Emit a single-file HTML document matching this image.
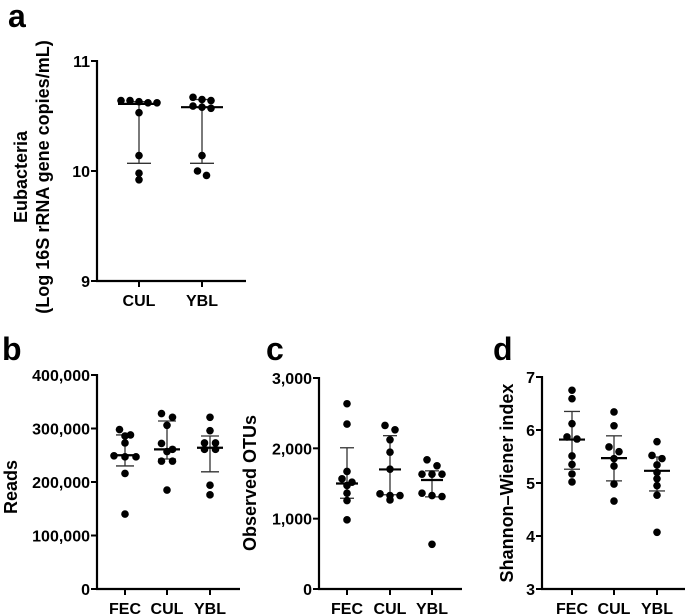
<!DOCTYPE html>
<html><head><meta charset="utf-8"><style>
html,body{margin:0;padding:0;background:#fff;}
svg{display:block;font-family:"Liberation Sans",Arial,sans-serif;font-weight:bold;}
</style></head><body>
<svg id="fig" width="685" height="615" viewBox="0 0 685 615"></svg>
<script>
const aCategories=["CUL","YBL"];
const aValues=[[10.64,10.62,10.62,10.63,10.64,10.53,10.14,9.98,9.92],[10.67,10.65,10.64,10.59,10.57,10.58,10.14,9.96,10.0]];
const aMedian=[10.61,10.58];const aQ1=[10.07,10.07];const aQ3=[10.63,10.65];
const aTicks=[9,10,11];const aTickLabels=["9","10","11"];

const bCategories=["FEC","CUL","YBL"];
const bValues=[[288000,298000,286000,273000,249000,247000,247000,216000,140000],[321000,328000,306000,272000,261000,257000,239000,239000,185000],[321000,296000,273000,273000,261000,261000,194000,176000]];
const bMedian=[250000,261000,264000];const bQ1=[230000,243000,219000];const bQ3=[288000,314000,286000];
const bTicks=[0,100000,200000,300000,400000];const bTickLabels=["0","100,000","200,000","300,000","400,000"];

const cCategories=["FEC","CUL","YBL"];
const cValues=[[2634,2345,1566,1671,1519,1472,1362,1258,983],[2326,2264,2122,1946,1704,1267,1353,1329,1329],[1633,1633,1633,1752,1837,1362,1315,1329,636]];
const cMedian=[1500,1700,1550];const cQ1=[1290,1340,1310];const cQ3=[2008,2180,1680];
const cTicks=[0,1000,2000,3000];const cTickLabels=["0","1,000","2,000","3,000"];

const dCategories=["FEC","CUL","YBL"];
const dValues=[[6.75,6.59,6.12,5.83,5.87,5.51,5.35,5.17,5.02],[6.34,6.08,5.68,5.59,5.46,5.32,4.98,4.66],[5.78,5.46,5.52,5.34,5.20,5.08,4.95,4.77,4.07]];
const dMedian=[5.82,5.47,5.23];const dQ1=[5.26,5.04,4.85];const dQ3=[6.35,5.89,5.49];
const dTicks=[3,4,5,6,7];const dTickLabels=["3","4","5","6","7"];

const NS="http://www.w3.org/2000/svg";
const svg=document.getElementById('fig');
function mk(tag,attrs,parent,text){const e=document.createElementNS(NS,tag);for(const k in attrs)e.setAttribute(k,attrs[k]);if(text!==undefined)e.textContent=text;(parent||svg).appendChild(e);return e;}

function jitterOffsets(vals,spread,yScale){
  const offs=new Array(vals.length).fill(0);
  const idx=vals.map((v,i)=>i).sort((a,b)=>vals[b]-vals[a]);
  let groups=[];let cur=[];
  idx.forEach(i=>{if(cur.length&&Math.abs(yScale(vals[cur[0]])-yScale(vals[i]))>6){groups.push(cur);cur=[];}cur.push(i);});
  if(cur.length)groups.push(cur);
  groups.forEach(g=>{const n=g.length;g.forEach((i,k)=>{offs[i]=(k-(n-1)/2)*spread;});});
  return offs;
}

function panel(cfg){
  const g=mk('g',{},svg);
  
  
  const y=v=>cfg.y0+(v-cfg.min)/(cfg.max-cfg.min)*(cfg.y1-cfg.y0);
  const x=i=>cfg.xs[i];
  const ax=mk('g',{},g);
  
  
  mk('line',{x1:cfg.ax,y1:y(cfg.max)-1,x2:cfg.ax,y2:cfg.y0+1,stroke:'#000','stroke-width':2.2},ax);
  cfg.ticks.forEach((t,i)=>{
    mk('line',{x1:cfg.ax-6,y1:y(t),x2:cfg.ax,y2:y(t),stroke:'#000','stroke-width':2},ax);
    const tl=mk('text',{x:cfg.ax-7,y:y(t)+6,'text-anchor':'end','font-size':cfg.fs},ax,cfg.tickLabels[i]);
    
    
  });
  const xa=mk('g',{},g);
  
  
  mk('line',{x1:cfg.ax-1,y1:cfg.y0,x2:cfg.axEnd,y2:cfg.y0,stroke:'#000','stroke-width':2.2},xa);
  cfg.cats.forEach((c,i)=>{
    mk('line',{x1:x(i),y1:cfg.y0,x2:x(i),y2:cfg.y0+6,stroke:'#000','stroke-width':2},xa);
    const tl=mk('text',{x:x(i),y:cfg.y0+25,'text-anchor':'middle','font-size':cfg.fs},xa,c);
    
    
  });
  cfg.cats.forEach((c,i)=>{
    const sg=mk('g',{},g);
    
    
    mk('line',{x1:x(i),y1:y(cfg.q1[i]),x2:x(i),y2:y(cfg.q3[i]),stroke:'#333','stroke-width':1.3},sg);
    [cfg.q1[i],cfg.q3[i]].forEach(v=>mk('line',{x1:x(i)-cfg.cap,y1:y(v),x2:x(i)+cfg.cap,y2:y(v),stroke:'#333','stroke-width':1.3},sg));
    const med=mk('line',{x1:x(i)-cfg.med,y1:y(cfg.median[i]),x2:x(i)+cfg.med,y2:y(cfg.median[i]),stroke:'#000','stroke-width':2.2},sg);
    
    
    const offs=jitterOffsets(cfg.vals[i],cfg.spread,y);
    cfg.vals[i].forEach((v,k)=>{
      const p=mk('circle',{cx:x(i)+offs[k],cy:y(v),r:3.8,fill:'#000'},sg);
      
      
    });
  });
  return g;
}

panel({name:'panel-a',cats:aCategories,vals:aValues,median:aMedian,q1:aQ1,q3:aQ3,ticks:aTicks,tickLabels:aTickLabels,
  min:9,max:11,y0:281,y1:61,ax:97,axEnd:246,xs:[139,202],fs:16,cap:12,med:21,spread:9});
panel({name:'panel-b',cats:bCategories,vals:bValues,median:bMedian,q1:bQ1,q3:bQ3,ticks:bTicks,tickLabels:bTickLabels,
  min:0,max:400000,y0:589,y1:375,ax:97,axEnd:240,xs:[125,167,210],fs:16,cap:9,med:13,spread:11});
panel({name:'panel-c',cats:cCategories,vals:cValues,median:cMedian,q1:cQ1,q3:cQ3,ticks:cTicks,tickLabels:cTickLabels,
  min:0,max:3000,y0:589,y1:378,ax:319,axEnd:462,xs:[347,390,432],fs:16,cap:7,med:11,spread:10});
panel({name:'panel-d',cats:dCategories,vals:dValues,median:dMedian,q1:dQ1,q3:dQ3,ticks:dTicks,tickLabels:dTickLabels,
  min:3,max:7,y0:589,y1:377,ax:542,axEnd:685,xs:[572,614,657],fs:16,cap:8,med:13,spread:10});

function label(txt,x,y,name,size,rot){
  const t=mk('text',rot?{x:x,y:y,'text-anchor':'middle','font-size':size,transform:'rotate(-90 '+x+' '+y+')'}:{x:x,y:y,'font-size':size},svg,txt);
  
  
}
label('a',8,27,'panel-label-a',32);
label('b',2,360,'panel-label-b',32);
label('c',266,360,'panel-label-c',32);
label('d',493,360,'panel-label-d',32);
label('Eubacteria',27,177,'y-axis-title-a',18,true);
label('(Log 16S rRNA gene copies/mL)',49,177,'y-axis-title-a-units',18,true);
label('Reads',17,487,'y-axis-title-b',18,true);
label('Observed OTUs',256,483,'y-axis-title-c',18,true);
label('Shannon\u2013Wiener index',513,483,'y-axis-title-d',18,true);
</script>
</body></html>
